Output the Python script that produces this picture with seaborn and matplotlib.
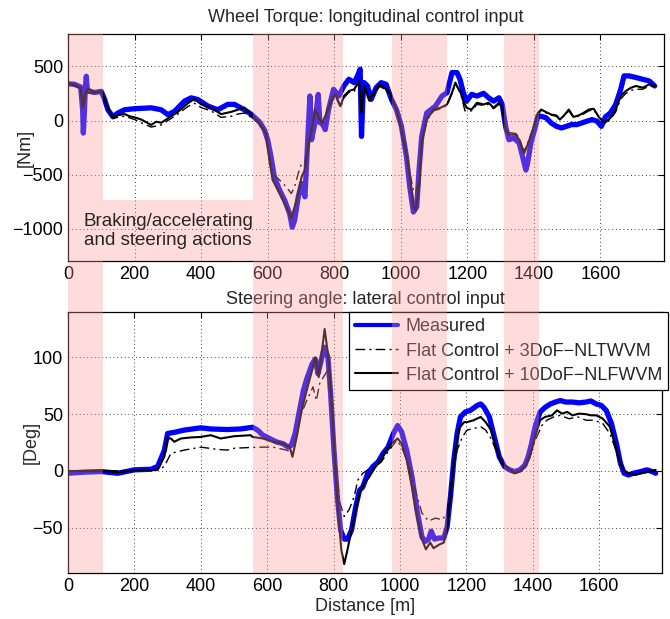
import matplotlib
matplotlib.use("Agg")
import matplotlib.pyplot as plt
import matplotlib.transforms as mtransforms
from matplotlib.patches import Rectangle
from matplotlib.lines import Line2D
import seaborn as sns

# ---- wheel torque [Nm] ----
torque_meas_d = [0, 20, 38, 44, 46, 49, 52, 55, 58, 64, 80, 100, 110, 120, 135, 150, 170, 200, 250, 280,
                 300, 320, 350, 370, 390, 420, 450, 480, 500, 530, 550, 575, 590, 600, 610, 620, 636, 651,
                 666, 674, 681, 692, 702, 712, 717, 722, 727, 732, 742, 752, 757, 763, 773, 783, 798, 814,
                 829, 844, 860, 870, 878, 882, 886, 890, 900, 911, 926, 941, 956, 972, 987, 1002, 1017,
                 1027, 1038, 1048, 1055, 1063, 1078, 1104, 1124, 1139, 1154, 1169, 1178, 1188, 1198, 1213,
                 1229, 1249, 1264, 1279, 1295, 1305, 1315, 1325, 1340, 1356, 1366, 1376, 1381, 1391, 1402,
                 1412, 1422, 1437, 1452, 1468, 1483, 1498, 1513, 1529, 1544, 1559, 1575, 1590, 1603, 1615,
                 1630, 1646, 1661, 1671, 1686, 1707, 1727, 1747, 1763]
torque_meas = [340, 335, 310, 100, -115, 60, 300, 410, 280, 270, 260, 270, 195, 100, 35, 70, 100, 110, 118, 100,
               55, 85, 180, 210, 195, 135, 100, 150, 150, 100, 60, -10, -84, -177, -332, -519, -643, -736,
               -860, -985, -922, -705, -580, -705, -394, -84, 227, -177, -22, 242, -20, -22, -84, 102, 289, 227,
               320, 382, 351, 413, 475, -146, 200, 351, 320, 196, 304, 351, 335, 196, 102, -53, -332,
               -612, -845, -798, -456, -146, 71, 133, 227, 258, 444, 444, 382, 258, 180, 242,
               227, 252, 211, 180, 211, 149, -53, -177, -162, -208, -332, -457, -394, -208, -84,
               40, 40, 25, -22, -53, -68, -53, -37, -37, -22, -6, 9, -6, -53, 34,
               71, 149, 289, 413, 413, 398, 382, 366, 320]

torque_10dof_d = [0, 20, 38, 45, 52, 60, 80, 100, 110, 120, 135, 150, 170, 185, 200, 220, 250, 265, 280, 300,
                  330, 360, 380, 400, 430, 460, 490, 510, 530, 550, 575, 595, 605, 615, 631, 646, 661, 671,
                  681, 692, 702, 712, 722, 732, 742, 752, 763, 773, 788, 803, 819, 829, 844, 860, 875, 882,
                  890, 905, 921, 936, 951, 967, 987, 1002, 1017, 1027, 1038, 1045, 1055, 1063, 1078, 1099,
                  1119, 1139, 1154, 1164, 1180, 1188, 1198, 1213, 1229, 1249, 1264, 1279, 1295, 1305, 1315,
                  1325, 1346, 1356, 1366, 1371, 1381, 1397, 1412, 1422, 1437, 1452, 1468, 1478, 1493, 1505,
                  1519, 1534, 1549, 1565, 1580, 1595, 1613, 1630, 1646, 1661, 1676, 1692, 1707, 1727, 1747,
                  1763]
torque_10dof = [350, 330, 300, 120, 250, 300, 260, 270, 200, 120, 30, 50, 60, 40, 30, 10, -40, -10, -20, 20,
                80, 160, 200, 150, 120, 60, 80, 100, 120, 56, -22, -115, -363, -550, -643, -736, -829, -907,
                -798, -674, -519, -456, -239, -84, 102, 40, -22, 40, 165, 242, 133, 227, 273, 289, 366, 71,
                320, 196, 258, 335, 304, 258, 102, -84, -301, -519, -798, -829, -612, -208, 9, 102,
                118, 149, 258, 351, 258, 180, 118, 102, 165, 149, 165, 118, 165, 118, -84,
                -130, -130, -177, -270, -301, -224, -84, 71, 102, 78, 56, 47, 9, 56, 102,
                34, 47, 71, 102, 109, 34, -22, 25, 102, 227, 273, 304, 320, 304, 335,
                320]

torque_3dof_d = [0, 20, 40, 46, 55, 80, 100, 120, 135, 150, 170, 200, 220, 250, 280, 300, 330, 360, 380, 400,
                 430, 460, 490, 510, 530, 550, 575, 595, 605, 615, 636, 656, 671, 681, 692, 702, 712, 722,
                 732, 742, 752, 763, 773, 788, 803, 819, 829, 844, 860, 875, 882, 890, 905, 921, 936, 951,
                 967, 987, 1002, 1017, 1027, 1038, 1045, 1055, 1063, 1078, 1099, 1119, 1139, 1154, 1164,
                 1180, 1193, 1213, 1229, 1249, 1264, 1279, 1295, 1305, 1315, 1325, 1346, 1356, 1366, 1371,
                 1381, 1397, 1412, 1422, 1437, 1452, 1468, 1478, 1493, 1505, 1519, 1534, 1549, 1565, 1580,
                 1595, 1613, 1630, 1646, 1661, 1676, 1692, 1707, 1727, 1747, 1763]
torque_3dof = [340, 320, 280, 150, 260, 250, 260, 110, 20, 30, 40, 10, -20, -60, -40, 0, 60, 130, 160, 120,
               90, 30, 40, 60, 70, 30, -30, -130, -330, -488, -550, -612, -674, -612, -488, -394, -400, -230,
               -100, 80, 30, -30, 30, 150, 230, 120, 210, 260, 270, 340, 90, 300, 180, 240, 320, 290,
               240, 90, -90, -290, -480, -640, -660, -560, -200, 0, 90, 110, 140, 250, 340,
               250, 90, 90, 150, 140, 150, 110, 150, 110, -70, -110, -120, -160, -250, -280,
               -210, -80, 60, 90, 70, 50, 40, 10, 50, 90, 30, 40, 60, 90, 100,
               30, -30, 10, 80, 200, 250, 280, 290, 290, 320, 310]

# ---- steering angle [Deg] ----
steer_meas_d = [0, 50, 100, 150, 200, 250, 270, 290, 300, 320, 350, 400, 430, 480, 520, 556, 571, 587, 607, 627,
                648, 663, 673, 684, 699, 709, 719, 735, 745, 753, 760, 772, 783, 791, 801, 811, 821, 832,
                842, 854, 867, 878, 888, 903, 918, 934, 949, 964, 980, 993, 1005, 1020, 1036, 1051, 1066,
                1076, 1086, 1094, 1104, 1117, 1132, 1142, 1152, 1162, 1172, 1182, 1197, 1212, 1233, 1243,
                1253, 1269, 1284, 1299, 1315, 1330, 1345, 1361, 1376, 1386, 1396, 1407, 1422, 1437, 1453,
                1468, 1483, 1499, 1519, 1540, 1560, 1575, 1591, 1606, 1621, 1637, 1652, 1664, 1675, 1688,
                1703, 1724, 1744, 1760, 1770]
steer_meas = [-2, -1, -0.5, -2, 1, 1.5, 4, 18, 33, 34, 36, 38, 37, 36.5, 37, 38.5, 36, 31.5, 28.6, 25.7,
              24, 21, 22.8, 33, 56, 71, 81, 94, 98.5, 85.6, 94, 109, 100, 68, 18.4, -22.5, -52, -60,
              -60, -52, -31, -17, -14, -2, 3.8, 8, 15.5, 21, 33, 40, 34.4, 18.4, -5, -34, -58,
              -62, -60, -53, -60, -59, -59, -49, -22.5, 9.6, 33, 47.6, 52, 53.4, 57.8, 59,
              56, 47.6, 30, 12.5, 3.8, 1, -0.6, 1, 5, 12.5, 24, 39, 52, 56, 59,
              60.7, 62, 60.7, 60.7, 60, 60.7, 61.6, 59, 57.8, 53.4, 41.7, 24, 6.7, -2, -3.5,
              -2, -0.6, 1, -0.6, -2]

steer_10dof_d = [0, 100, 150, 200, 270, 290, 300, 310, 320, 340, 370, 400, 430, 460, 500, 550, 556, 587, 617,
                 648, 668, 676, 689, 704, 719, 735, 745, 755, 765, 773, 783, 793, 803, 813, 823, 832, 842,
                 854, 867, 878, 893, 908, 923, 944, 959, 974, 993, 1005, 1020, 1036, 1051, 1066, 1078, 1091,
                 1101, 1117, 1132, 1142, 1152, 1166, 1178, 1193, 1202, 1222, 1243, 1258, 1274, 1289, 1304,
                 1325, 1345, 1361, 1376, 1391, 1407, 1422, 1437, 1458, 1473, 1488, 1504, 1519, 1540, 1560,
                 1575, 1591, 1611, 1632, 1647, 1660, 1673, 1688, 1708, 1729, 1749, 1770]
steer_10dof = [0, 0, -1, 0.5, 1, 12.5, 28.6, 28.6, 25.7, 28.6, 29.5, 30, 31.5, 28.6, 30.6, 31.5, 30, 28.6, 25.7,
               24, 21, 12.5, 30, 53.4, 71, 88.4, 100, 82.6, 106, 125, 103, 68, 12.5, -34, -69, -82, -69,
               -52, -34, -19.6, -10.8, -5, 2.3, 11, 18.4, 24, 28.6, 24, 9.6, -13.7, -40, -60, -69, -63,
               -68, -65, -63, -49, -22.5, 18.4, 37.4, 43, 43, 44.7, 47.6, 43, 36, 21, 8,
               2.3, -2, -0.6, 3.8, 12.5, 30, 44.7, 47.6, 49, 53.4, 50.5, 52, 49, 50.5, 50,
               49, 49, 46, 39, 24, 9.6, 1, -2, -3.5, -2, -0.6, 1]

steer_3dof_d = [0, 100, 200, 270, 290, 310, 350, 400, 450, 480, 500, 550, 587, 617, 658, 678, 699, 719, 738,
                748, 758, 770, 781, 793, 805, 819, 832, 847, 862, 873, 888, 903, 923, 944, 964, 990, 1005,
                1025, 1046, 1066, 1086, 1107, 1127, 1142, 1157, 1172, 1188, 1202, 1222, 1243, 1258, 1274,
                1289, 1304, 1335, 1361, 1381, 1396, 1412, 1427, 1442, 1463, 1483, 1509, 1535, 1560, 1586,
                1611, 1632, 1647, 1662, 1678, 1700, 1730, 1770]
steer_3dof = [0, 0, 0.5, 1, 4, 15.5, 18.4, 21, 19, 18.4, 20, 20.7, 21, 21, 18.4, 15.5, 47.6, 62, 74,
              62, 77, 83, 88, 59, 9.6, -28, -40, -34, -22.5, -8, -2, 1, 3.8, 8, 17, 27, 21,
              6.7, -16.6, -37, -44, -41.5, -43, -37, -5, 18.4, 30, 36, 37.4, 39, 36, 28.6,
              18.4, 6.7, 1, -0.6, 6.7, 18.4, 30, 40, 44.7, 47.6, 49, 46, 47.6, 44.7, 44.7,
              41.7, 33, 21, 6.7, -0.6, -3, -2, 0]

# shaded manoeuvre zones [m]
zones = [(0, 105), (555, 825), (975, 1140), (1310, 1415)]

legend_labels = ["Measured", "Flat Control + 3DoF\u2212NLTWVM", "Flat Control + 10DoF\u2212NLFWVM"]

sns.set_style("white")
plt.rcParams['font.family'] = ['Liberation Sans', 'DejaVu Sans']
plt.rcParams['axes.unicode_minus'] = True

fig = plt.figure(figsize=(6.7, 6.19), dpi=100)
ax1 = fig.add_axes([0.1015, 0.578, 0.889, 0.367])
ax2 = fig.add_axes([0.1015, 0.074, 0.887, 0.422])

dashdot = (0, (7, 3, 1.5, 3))
pink = '#ff9696'

for ax, (md, mv), (d3, v3), (d10, v10) in [
        (ax1, (torque_meas_d, torque_meas), (torque_3dof_d, torque_3dof), (torque_10dof_d, torque_10dof)),
        (ax2, (steer_meas_d, steer_meas), (steer_3dof_d, steer_3dof), (steer_10dof_d, steer_10dof))]:
    sns.lineplot(x=md, y=mv, ax=ax, color='#0000ff', lw=3.8, sort=False, estimator=None)
    sns.lineplot(x=d3, y=v3, ax=ax, color='black', lw=1.0, linestyle=dashdot, sort=False, estimator=None)
    sns.lineplot(x=d10, y=v10, ax=ax, color='black', lw=1.5, sort=False, estimator=None)

    ax.set_xlim(0, 1790)
    ax.set_xticks(range(0, 1601, 200))
    ax.grid(True, color='black', linestyle=(0, (1, 3.5)), linewidth=0.6)
    ax.set_axisbelow(True)
    ax.tick_params(direction='in', top=True, right=True, length=4, width=0.8,
                   labelsize=13, colors='black')
    for sp in ax.spines.values():
        sp.set_color('black')
        sp.set_linewidth(0.9)

ax1.set_ylim(-1300, 800)
ax1.set_yticks([-1000, -500, 0, 500])
ax1.set_ylabel("[Nm]", fontsize=13)
ax1.yaxis.set_label_coords(-0.057, 0.5)
ax1.set_title("Wheel Torque: longitudinal control input", fontsize=13, pad=9)

ax2.set_ylim(-90, 140)
ax2.set_yticks([-50, 0, 50, 100])
ax2.set_ylabel("[Deg]", fontsize=13)
ax2.yaxis.set_label_coords(-0.047, 0.5)
ax2.set_xlabel("Distance [m]", fontsize=13, labelpad=2)
ax2.set_title("Steering angle: lateral control input", fontsize=13, pad=6)

handles = [Line2D([0], [0], color='#0000ff', lw=3),
           Line2D([0], [0], color='black', lw=1.0, linestyle=dashdot),
           Line2D([0], [0], color='black', lw=1.5)]
leg = ax2.legend(handles, legend_labels, loc='upper right', bbox_to_anchor=(1.01, 1.0),
                 borderaxespad=0, fontsize=13, fancybox=False, framealpha=1, edgecolor='black',
                 handlelength=2.4, handletextpad=0.4, labelspacing=0.4, borderpad=0.35)
leg.get_frame().set_linewidth(0.9)

# pink zones spanning both panels, drawn over everything
trans = mtransforms.blended_transform_factory(ax1.transData, fig.transFigure)
y_lo = 0.074
y_hi = 0.578 + 0.367
for x0, x1 in zones:
    fig.add_artist(Rectangle((x0, y_lo), x1 - x0, y_hi - y_lo, transform=trans,
                             facecolor=pink, alpha=0.33, lw=0, zorder=5))

# annotation box for the zones
ax1.add_patch(Rectangle((105, -1300), 450, 570, facecolor=pink, alpha=0.33, lw=0, zorder=5))
fig.text(48, -1020, "Braking/accelerating\nand steering actions", transform=ax1.transData,
         fontsize=13.5, va='center', ha='left', zorder=10)

fig.savefig("out.png", dpi=100)
